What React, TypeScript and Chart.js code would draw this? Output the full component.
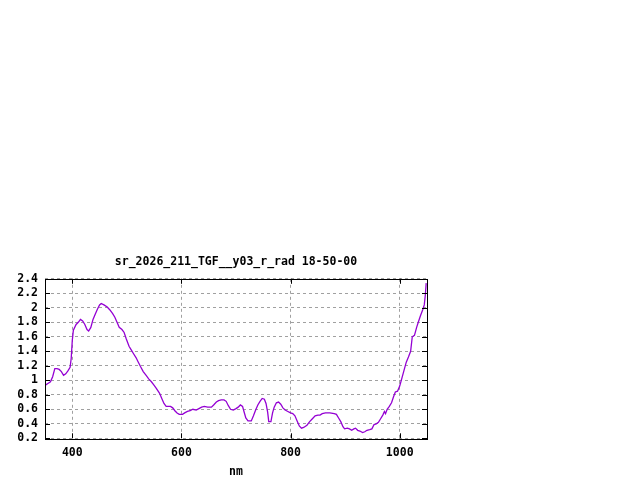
import { useEffect, useRef } from 'react'
import { Chart, registerables } from 'chart.js'
import type { Plugin } from 'chart.js'

Chart.register(...registerables)

// spectrum (nm, radiance)
const wavelengths = [
  350, 356, 360, 364, 368, 372, 376, 380, 384, 388, 392, 396, 398, 400, 402, 407, 411, 415, 419, 423,
  427, 430, 434, 438, 442, 446, 450, 453, 458, 464, 469, 474, 478, 482, 486, 491, 495, 499, 504, 508,
  512, 517, 521, 525, 530, 535, 540, 545, 549, 554, 560, 564, 568, 572, 580, 584, 588, 592, 596, 602,
  606, 611, 616, 621, 627, 632, 637, 642, 648, 655, 659, 664, 668, 673, 678, 682, 686, 690, 695, 700,
  704, 708, 712, 715, 718, 722, 728, 732, 736, 740, 744, 748, 752, 755, 758, 760, 764, 767, 770, 774,
  778, 782, 786, 790, 795, 800, 804, 808, 812, 816, 820, 824, 830, 835, 840, 845, 850, 854, 858, 864,
  872, 880, 884, 888, 892, 896, 899, 904, 908, 912, 916, 919, 923, 927, 932, 936, 940, 945, 949, 953,
  957, 961, 965, 969, 972, 974, 977, 981, 985, 989, 992, 996, 1000, 1004, 1008, 1012, 1016, 1020, 1023, 1027,
  1031, 1034, 1038, 1042, 1045, 1047, 1048.5
]
const radiance = [
  0.93, 0.96, 0.98, 1.05, 1.16, 1.16, 1.15, 1.12, 1.07, 1.09, 1.13, 1.18, 1.3, 1.55, 1.69, 1.77, 1.8, 1.84, 1.82, 1.77,
  1.7, 1.68, 1.73, 1.84, 1.91, 1.98, 2.04, 2.06, 2.04, 2.01, 1.97, 1.92, 1.87, 1.8, 1.73, 1.7, 1.66, 1.57, 1.47, 1.42,
  1.37, 1.31, 1.25, 1.19, 1.12, 1.07, 1.02, 0.98, 0.94, 0.89, 0.82, 0.75, 0.68, 0.64, 0.64, 0.62, 0.58, 0.55, 0.53, 0.53,
  0.55, 0.57, 0.58, 0.6, 0.59, 0.61, 0.63, 0.64, 0.63, 0.63, 0.66, 0.7, 0.72, 0.73, 0.73, 0.71, 0.65, 0.6, 0.59, 0.61,
  0.63, 0.66, 0.64, 0.56, 0.48, 0.44, 0.44, 0.51, 0.59, 0.66, 0.71, 0.75, 0.74, 0.68, 0.56, 0.43, 0.43, 0.55, 0.63, 0.69,
  0.7, 0.67, 0.62, 0.59, 0.57, 0.55, 0.54, 0.51, 0.44, 0.37, 0.34, 0.35, 0.38, 0.43, 0.47, 0.51, 0.52, 0.52, 0.54, 0.55,
  0.55, 0.54, 0.53, 0.48, 0.43, 0.36, 0.33, 0.34, 0.33, 0.31, 0.33, 0.34, 0.31, 0.3, 0.28, 0.29, 0.31, 0.32, 0.33, 0.39,
  0.4, 0.42, 0.47, 0.52, 0.57, 0.54, 0.6, 0.64, 0.69, 0.78, 0.84, 0.85, 0.92, 1.03, 1.14, 1.25, 1.32, 1.4, 1.6, 1.62,
  1.73, 1.8, 1.89, 1.97, 2.04, 2.18, 2.34
]
const xTicks = [400, 600, 800, 1000]
const yTicks = [0.2, 0.4, 0.6, 0.8, 1, 1.2, 1.4, 1.6, 1.8, 2, 2.2, 2.4]

const FONT = '"DejaVu Sans Mono", "Liberation Mono", monospace'
const font = { family: FONT, size: 11.5, weight: 'bold' as const }

// gnuplot style: black frame on all four sides, ticks pointing inwards
const framePlugin: Plugin<'line'> = {
  id: 'frame',
  afterDraw(chart) {
    const { ctx, chartArea: a, scales } = chart
    ctx.save()
    ctx.strokeStyle = '#000'
    ctx.lineWidth = 1
    ctx.setLineDash([])
    ctx.beginPath()
    for (const v of xTicks) {
      const px = Math.round(scales.x.getPixelForValue(v)) + 0.5
      ctx.moveTo(px, a.bottom)
      ctx.lineTo(px, a.bottom - 5)
      ctx.moveTo(px, a.top)
      ctx.lineTo(px, a.top + 5)
    }
    for (const v of yTicks) {
      const py = Math.round(scales.y.getPixelForValue(v)) + 0.5
      ctx.moveTo(a.left, py)
      ctx.lineTo(a.left + 5, py)
      ctx.moveTo(a.right, py)
      ctx.lineTo(a.right - 5, py)
    }
    ctx.stroke()
    ctx.strokeRect(
      Math.round(a.left) + 0.5,
      Math.round(a.top) + 0.5,
      Math.round(a.right - a.left),
      Math.round(a.bottom - a.top)
    )
    ctx.restore()
  }
}

export default function App() {
  const canvasRef = useRef<HTMLCanvasElement>(null)

  useEffect(() => {
    if (!canvasRef.current) return
    const chart = new Chart(canvasRef.current, {
      type: 'line',
      data: {
        datasets: [
          {
            data: wavelengths.map((w, i) => ({ x: w, y: radiance[i] })),
            borderColor: '#9400d3',
            borderWidth: 1.3,
            pointRadius: 0,
            fill: false,
            tension: 0
          }
        ]
      },
      options: {
        animation: false,
        responsive: false,
        devicePixelRatio: 1,
        layout: { padding: { top: 240, right: 213, bottom: 0, left: 0 } },
        plugins: {
          legend: { display: false },
          tooltip: { enabled: false },
          title: {
            display: true,
            text: 'sr_2026_211_TGF__y03_r_rad 18-50-00',
            fullSize: false,
            color: '#000',
            font,
            padding: { top: 15, bottom: 10 }
          }
        },
        scales: {
          x: {
            type: 'linear',
            min: 350,
            max: 1050,
            afterBuildTicks: (s) => {
              s.ticks = xTicks.map((value) => ({ value }))
            },
            afterFit: (s) => {
              s.height = 41.7
            },
            grid: { color: '#a0a0a0', drawTicks: false },
            border: { display: false, dash: [3, 3] },
            ticks: { padding: 8, color: '#000', font, autoSkip: false, maxRotation: 0, callback: (v) => String(v) },
            title: { display: true, text: 'nm', color: '#000', font, padding: { top: 4, bottom: 1 } }
          },
          y: {
            type: 'linear',
            min: 0.2,
            max: 2.4,
            afterBuildTicks: (s) => {
              s.ticks = yTicks.map((value) => ({ value }))
            },
            afterFit: (s) => {
              s.width = 45
            },
            grid: { color: '#a0a0a0', drawTicks: false },
            border: { display: false, dash: [3, 3] },
            ticks: { padding: 7, color: '#000', font, autoSkip: false, callback: (v) => String(v) }
          }
        }
      },
      plugins: [framePlugin]
    })
    return () => chart.destroy()
  }, [])

  return (
    <div style={{ position: 'absolute', left: 0, top: 0, width: 640, height: 480, background: '#fff' }}>
      <canvas ref={canvasRef} width={640} height={480} />
    </div>
  )
}
